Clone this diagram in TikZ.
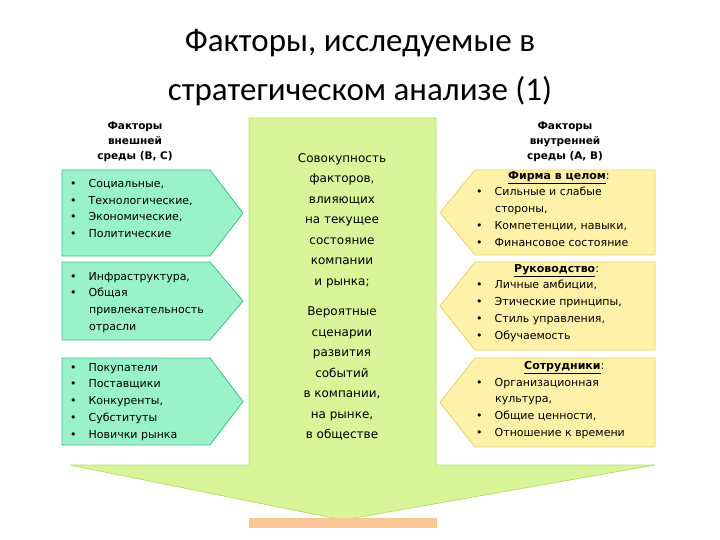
\documentclass[tikz,border=0pt]{standalone}
\usepackage{fontspec}
\setmainfont{DejaVu Sans}
\newfontfamily\titlefont{Carlito}
\definecolor{grn}{HTML}{99F2C8}
\definecolor{grnb}{HTML}{3FBF8F}
\definecolor{ylw}{HTML}{FFF2A8}
\definecolor{ylwb}{HTML}{E8D070}
\definecolor{lime}{HTML}{D8F59A}
\definecolor{limeb}{HTML}{B8E070}
\definecolor{org}{HTML}{F9C795}
\tikzset{
 txt/.style={font=\fontsize{11}{16.7}\selectfont, align=left, anchor=north west, inner sep=0pt},
 hd/.style={font=\bfseries\fontsize{10.5}{15}\selectfont, align=center, inner sep=0pt},
 gbox/.style={fill=grn, draw=grnb, line width=0.8pt},
 ybox/.style={fill=ylw, draw=ylwb, line width=0.8pt},
}
\begin{document}
\begin{tikzpicture}[x=1pt,y=-1pt]
\useasboundingbox (0,0) rectangle (720,540);
\node[font=\titlefont\fontsize{33}{49}\selectfont, align=center] (title) at (360,68) {Факторы, исследуемые в\\стратегическом анализе (1)};
% big arrow
\draw[fill=lime, draw=limeb, line width=0.8pt] (249,118) -- (436,118) -- (436,465) -- (655,465) -- (343,520) -- (70,465) -- (249,465) -- cycle;
\fill[org] (249,518) rectangle (437,528);
\node[font=\fontsize{12}{20.5}\selectfont, align=center, inner sep=0pt] (center) at (342,297) {Совокупность\\факторов,\\влияющих\\на текущее\\состояние\\компании\\и рынка;\\[10pt]Вероятные\\сценарии\\развития\\событий\\в компании,\\на рынке,\\в обществе};
% left
\node[hd] (lh) at (135,142) {Факторы\\внешней\\среды (В, С)};
\foreach \a/\b/\n in {170/256/l1,262/340/l2,358/445/l3}{
 \draw[gbox] (62,\a) -- (210,\a) -- (243,{(\a+\b)/2}) -- (210,\b) -- (62,\b) -- cycle;
}
\node[txt] (l1t) at (70,179) {•\hspace{12pt}Социальные,\\•\hspace{12pt}Технологические,\\•\hspace{12pt}Экономические,\\•\hspace{12pt}Политические};
\node[txt] (l2t) at (70,272) {•\hspace{12pt}Инфраструктура,\\•\hspace{12pt}Общая\\\hspace*{19pt}привлекательность\\\hspace*{19pt}отрасли};
\node[txt] (l3t) at (70,363) {•\hspace{12pt}Покупатели\\•\hspace{12pt}Поставщики\\•\hspace{12pt}Конкуренты,\\•\hspace{12pt}Субституты\\•\hspace{12pt}Новички рынка};
% right
\node[hd] (rh) at (565,142) {Факторы\\внутренней\\среды (А, В)};
\foreach \a/\b in {170/255,262/350,358/447}{
 \draw[ybox] (655,\a) -- (475,\a) -- (440,{(\a+\b)/2}) -- (475,\b) -- (655,\b) -- cycle;
}
\node[txt] (r1t) at (476,171) {\hspace*{32pt}\underline{\textbf{Фирма в целом}}:\\•\hspace{12pt}Сильные и слабые\\\hspace*{19pt}стороны,\\•\hspace{12pt}Компетенции, навыки,\\•\hspace{12pt}Финансовое состояние};
\node[txt] (r2t) at (476,264) {\hspace*{38pt}\underline{\textbf{Руководство}}:\\•\hspace{12pt}Личные амбиции,\\•\hspace{12pt}Этические принципы,\\•\hspace{12pt}Стиль управления,\\•\hspace{12pt}Обучаемость};
\node[txt] (r3t) at (476,361) {\hspace*{48pt}\underline{\textbf{Сотрудники}}:\\•\hspace{12pt}Организационная\\\hspace*{19pt}культура,\\•\hspace{12pt}Общие ценности,\\•\hspace{12pt}Отношение к времени};
\end{tikzpicture}
\end{document}
